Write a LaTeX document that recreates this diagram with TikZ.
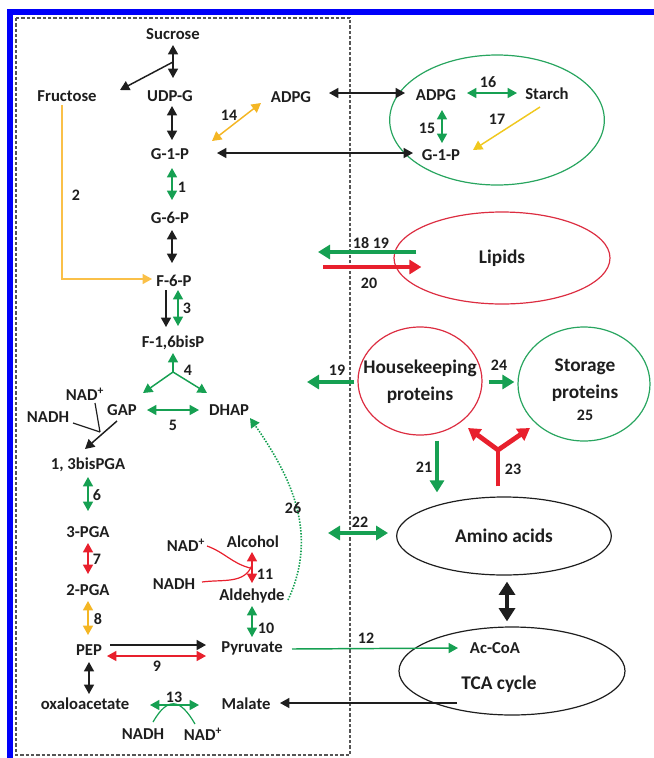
\documentclass[tikz,border=0pt]{standalone}
\usepackage{fontspec}
\setmainfont{Carlito}
\usetikzlibrary{arrows.meta, positioning, shapes.geometric}
\definecolor{TX}{RGB}{30,30,30}
\definecolor{GA}{RGB}{22,160,82}
\definecolor{GE}{RGB}{40,165,95}
\definecolor{RA}{RGB}{232,32,45}
\definecolor{RE}{RGB}{220,45,65}
\definecolor{OR}{RGB}{244,182,36}
\definecolor{OR2}{RGB}{250,192,72}
\definecolor{YL}{RGB}{240,200,30}
\definecolor{BL}{RGB}{0,0,250}
\definecolor{DG}{RGB}{85,85,85}

\begin{document}
\begin{tikzpicture}[x=0.75pt, y=-0.75pt,
  met/.style={font=\fontsize{12.5}{14}\selectfont\bfseries, text=TX, inner sep=1pt},
  bigt/.style={font=\fontsize{14.5}{20}\selectfont\bfseries, text=TX, align=center},
  num/.style={font=\fontsize{12}{14}\selectfont\bfseries, text=TX, inner sep=0pt},
  oval/.style={ellipse, draw=#1, line width=0.9pt, inner sep=0pt},
  arr/.style={-{Triangle[length=7pt,width=7.5pt]}, line width=1.1pt, draw=#1},
  arr/.default=TX,
  dbl/.style={{Triangle[length=7pt,width=7.5pt]}-{Triangle[length=7pt,width=7.5pt]}, line width=1.1pt, draw=#1},
  dbl/.default=TX,
  fat/.style={-{Triangle[length=9pt,width=10.5pt]}, line width=3.6pt, draw=#1},
  fatd/.style={{Triangle[length=9pt,width=10.5pt]}-{Triangle[length=9pt,width=10.5pt]}, line width=3.6pt, draw=#1},
  thn/.style={line width=0.9pt, draw=#1},
  dline/.style={-{Triangle[length=7pt,width=7.5pt]}, dash pattern=on 1.1pt off 1.1pt, line width=1.2pt, draw=GA}
]
\useasboundingbox (0,0) rectangle (654,758);

% frame
\fill[BL] (7,9) rectangle (654,15);
\fill[BL] (7,9) rectangle (13,758);
\draw[DG, line width=0.9pt, dash pattern=on 2.4pt off 1.6pt] (16,18) rectangle (350,755);

% cytosol
\node[met] (suc)   at (173,34)  {Sucrose};
\node[met] (udpg)  at (170,96)  {UDP-G};
\node[met] (fru)   at (67,96)   {Fructose};
\node[met] (adpgL) at (291,97)  {ADPG};
\node[met] (g1p)   at (170,154) {G-1-P};
\node[met] (g6p)   at (170,218) {G-6-P};
\node[met] (f6p)   at (174,281) {F-6-P};
\node[met] (f16)   at (173,343) {F-1,6bisP};
\node[met] (gap)   at (122,410) {GAP};
\node[met] (dhap)  at (229,410) {DHAP};
\node[met] (nadA)  at (85,394)  {NAD\textsuperscript{+}};
\node[met] (nadhA) at (48,417)  {NADH};
\node[met] (bpga)  at (88,465)  {1, 3bisPGA};
\node[met] (pga3)  at (88,532)  {3-PGA};
\node[met] (pga2)  at (88,590)  {2-PGA};
\node[met] (pep)   at (89,650)  {PEP};
\node[met] (pyr)   at (252,648) {Pyruvate};
\node[met] (oaa)   at (85,704)  {oxaloacetate};
\node[met] (mal)   at (246,704) {Malate};
\node[met] (nadhB) at (143,734) {NADH};
\node[met] (nadB)  at (203,734) {NAD\textsuperscript{+}};
\node[met] (alc)   at (253,542) {Alcohol};
\node[met] (ald)   at (252,596) {Aldehyde};
\node[met] (nadC)  at (186,545) {NAD\textsuperscript{+}};
\node[met] (nadhC) at (174,584) {NADH};

% plastid
\node[oval=GE, minimum width=161pt, minimum height=97.5pt] (plast) at (497,120) {};
\node[met] (adpgR)  at (436,95)  {ADPG};
\node[met] (starch) at (547,94)  {Starch};
\node[met] (g1pR)   at (441,155) {G-1-P};

% pools
\node[oval=RE, bigt, minimum width=162pt, minimum height=69pt] (lip) at (502,258) {Lipids};
\node[oval=RE, minimum width=93pt, minimum height=81pt] (hk) at (420,381) {};
\node[bigt] (hkt) at (420,382) {Housekeeping\\proteins};
\node[oval=GE, minimum width=99pt, minimum height=85.5pt] (st) at (584,384) {};
\node[bigt] (stt) at (585,380) {Storage\\proteins};
\node[num] (l25) at (585,415) {25};
\node[oval=TX, bigt, minimum width=161pt, minimum height=58.5pt] (amino) at (504,536) {Amino acids};
\node[oval=TX, minimum width=169.5pt, minimum height=66pt] (tcaE) at (512,671) {};
\node[met] (acoa) at (495,648) {Ac-CoA};
\node[bigt] (tca) at (499,684) {TCA cycle};

\coordinate (sj)  at (173,62);
\coordinate (j4)  at (173,372);
\coordinate (jg)  at (100,432);
\coordinate (c18) at (318,252);
\coordinate (c20) at (323,267);
\coordinate (c19) at (307,382);
\coordinate (c22) at (328,533);
\coordinate (j23) at (498,450);

% sucrose / starch branch
\draw[dbl] ([shift={(0,11)}]suc.center) -- ([shift={(3,-18)}]udpg.center);
\draw[arr] (sj) -- ([shift={(53,-6)}]fru.center);
\draw[dbl] ([shift={(2,10)}]udpg.center) -- ([shift={(2,-14)}]g1p.center);
\draw[dbl=OR] ([shift={(-30,6)}]adpgL.center) -- ([shift={(42,-13)}]g1p.center);
\draw[dbl] ([shift={(38,-4)}]adpgL.center) -- ([shift={(-31,-2)}]adpgR.center);
\draw[dbl] ([shift={(47,-1)}]g1p.center) -- ([shift={(-28,-2)}]g1pR.center);
\draw[dbl=GA] ([shift={(31,-2)}]adpgR.center) -- ([shift={(-30,-1)}]starch.center);
\draw[dbl=GA] ([shift={(6,15)}]adpgR.center) -- ([shift={(1,-12)}]g1pR.center);
\draw[arr=YL] ([shift={(-7,13)}]starch.center) -- ([shift={(32,-5)}]g1pR.center);

% glycolysis
\draw[dbl=GA] ([shift={(2,14)}]g1p.center) -- ([shift={(2,-18)}]g6p.center);
\draw[arr=OR2, line width=0.9pt] ([shift={(-5,9)}]fru.center) |- ([shift={(-22,-2)}]f6p.center);
\draw[dbl] ([shift={(2,12)}]g6p.center) -- ([shift={(-2,-18)}]f6p.center);
\draw[arr] ([shift={(-8,9)}]f6p.center) -- ([shift={(-7,-16)}]f16.center);
\draw[dbl=GA] ([shift={(4,9)}]f6p.center) -- ([shift={(5,-17)}]f16.center);
\draw[arr=GA] (j4) -- ([shift={(0,10)}]f16.center);
\draw[arr=GA] (j4) -- ([shift={(21,-17)}]gap.center);
\draw[arr=GA] (j4) -- ([shift={(-22,-17)}]dhap.center);
\draw[dbl=GA] ([shift={(25,0)}]gap.center) -- ([shift={(-30,0)}]dhap.center);
\draw[thn=TX] ([shift={(10,9)}]nadA.center) to[out=-80,in=100] (jg);
\draw[thn=TX] ([shift={(25,6)}]nadhA.center) -- (jg);
\draw[arr] ([shift={(-5,11)}]gap.center) -- ([shift={(-3,-16)}]bpga.center);
\draw[dbl=GA] ([shift={(0,12)}]bpga.center) -- ([shift={(0,-21)}]pga3.center);
\draw[dbl=RA] ([shift={(0,11)}]pga3.center) -- ([shift={(0,-16)}]pga2.center);
\draw[dbl=OR] ([shift={(0,11)}]pga2.center) -- ([shift={(-1,-15)}]pep.center);
\draw[arr] ([shift={(21,-5)}]pep.center) -- ([shift={(-46,-3)}]pyr.center);
\draw[dbl=RA] ([shift={(18,6)}]pep.center) -- ([shift={(-46,8)}]pyr.center);
\draw[dbl] ([shift={(0,12)}]pep.center) -- ([shift={(4,-10)}]oaa.center);
\draw[dbl=GA] ([shift={(65,1)}]oaa.center) -- ([shift={(-47,1)}]mal.center);
\draw[thn=GA] ([shift={(10,-12)}]nadhB.center) to[out=60,in=120,looseness=1.8] ([shift={(-8,-10)}]nadB.center);

% fermentation
\draw[dbl=RA] ([shift={(-1,10)}]alc.center) -- ([shift={(0,-13)}]ald.center);
\draw[thn=RA] ([shift={(21,1)}]nadC.center) to[out=-20,in=165] ([shift={(-2,-28)}]ald.center);
\draw[thn=RA] ([shift={(28,-2)}]nadhC.center) to[out=8,in=-110] ([shift={(0,-31)}]ald.center);
\draw[dbl=GA] ([shift={(0,10)}]ald.center) -- ([shift={(0,-11)}]pyr.center);
\draw[dline] ([shift={(36,4)}]ald.center) to[out=65,in=-55] ([shift={(21,8)}]dhap.center);
\draw[arr=GA] ([shift={(40,1)}]pyr.center) -- ([shift={(-37,0)}]acoa.center);
\draw[arr] ([shift={(-42,19)}]tca.center) -- ([shift={(34,-1)}]mal.center);

% reserve pools
\draw[fat=GA] ([shift={(23,-6)}]lip.west) -- (c18);
\draw[fat=RA] (c20) -- ([shift={(28,9)}]lip.west);
\draw[fat=GA] ([shift={(-3,1)}]hk.west) -- (c19);
\draw[fat=GA] ([shift={(6,1)}]hk.east) -- ([shift={(-3,-2)}]st.west);
\draw[fat=GA] ([shift={(17,5)}]hk.south) -- ([shift={(-67,-4)}]amino.north);
\draw[line width=3.6pt, draw=RA] ([shift={(-6,-10)}]amino.north) -- (j23);
\draw[fat=RA] (j23) -- ([shift={(48,47)}]hk.center);
\draw[fat=RA] (j23) -- ([shift={(-54,44)}]st.center);
\draw[fatd=GA] (c22) -- ([shift={(-8,-3)}]amino.west);
\draw[{Triangle[length=10pt,width=12pt]}-{Triangle[length=10pt,width=12pt]}, line width=3pt, draw=TX]
  ([shift={(3,6)}]amino.south) -- ([shift={(-5,-5)}]tcaE.north);

% numbers
\node[num] (l1)  at (182,187) {1};
\node[num] (l2)  at (76,195)  {2};
\node[num] (l3)  at (187,308) {3};
\node[num] (l4)  at (188,370) {4};
\node[num] (l5)  at (173,425) {5};
\node[num] (l6)  at (97,495)  {6};
\node[num] (l7)  at (97,559)  {7};
\node[num] (l8)  at (98,619)  {8};
\node[num] (l9)  at (157,666) {9};
\node[num] (l10) at (266,628) {10};
\node[num] (l11) at (265,574) {11};
\node[num] (l12) at (366,638) {12};
\node[num] (l13) at (174,697) {13};
\node[num] (l14) at (229,115) {14};
\node[num] (l15) at (427,128) {15};
\node[num] (l16) at (488,82)  {16};
\node[num] (l17) at (497,119) {17};
\node[num] (l18) at (371,243) {18 19};
\node[num] (l20) at (369,283) {20};
\node[num] (l19) at (337,370) {19};
\node[num] (l24) at (499,365) {24};
\node[num] (l21) at (424,467) {21};
\node[num] (l23) at (513,469) {23};
\node[num] (l22) at (360,522) {22};
\node[num] (l26) at (293,508) {26};
\end{tikzpicture}
\end{document}
